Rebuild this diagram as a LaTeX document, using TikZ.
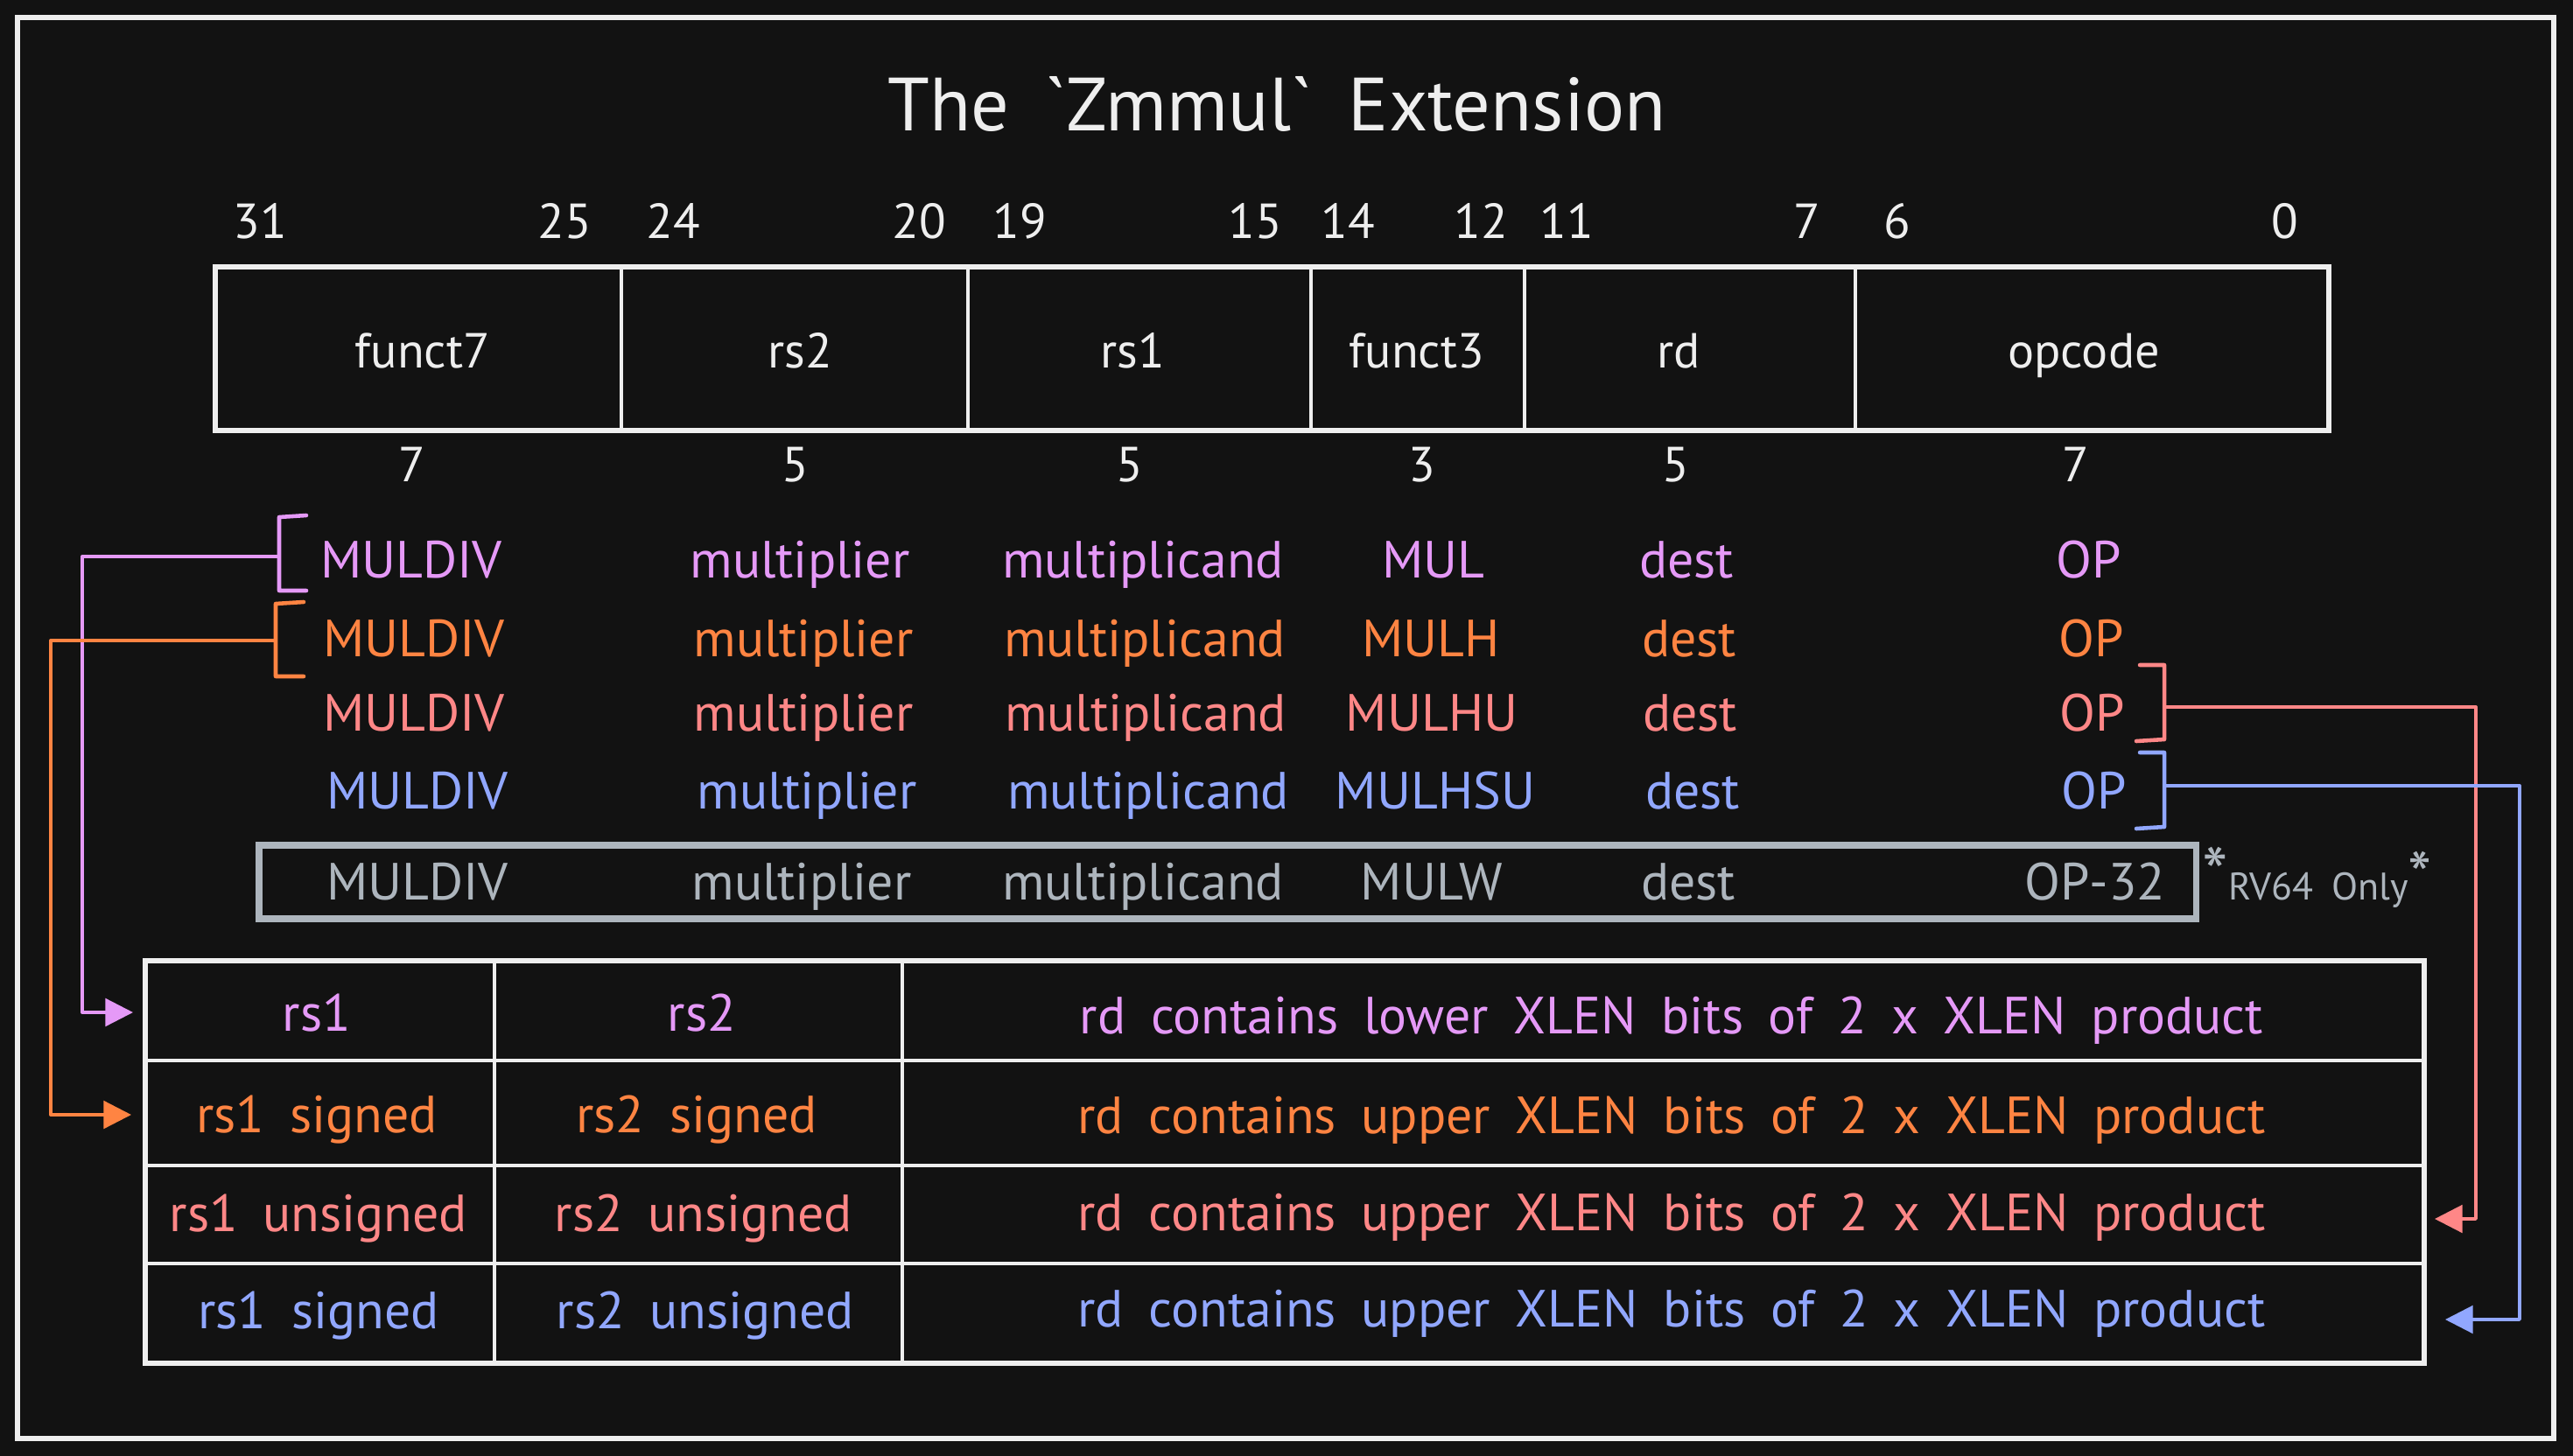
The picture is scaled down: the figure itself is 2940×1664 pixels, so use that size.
\documentclass[tikz,border=0pt]{standalone}
\usepackage{fontspec}
\setmainfont{PT Sans}[WordSpace=1.8]
\usetikzlibrary{arrows.meta}
\definecolor{bg}{HTML}{121212}
\definecolor{fg}{HTML}{EEEEEE}
\definecolor{vio}{HTML}{E599F7}
\definecolor{ora}{HTML}{FF8442}
\definecolor{sal}{HTML}{FF8787}
\definecolor{blu}{HTML}{91A7FF}
\definecolor{gry}{HTML}{ADB5BD}
\begin{document}
\begin{tikzpicture}[x=0.01cm,y=-0.01cm,
  txt/.style={inner sep=0pt, anchor=base},
  titletxt/.style={txt, text=fg, font=\fontsize{24.5}{24.5}\selectfont},
  bitnum/.style={txt, text=fg, font=\fontsize{16}{16}\selectfont},
  fieldtxt/.style={txt, text=fg, font=\fontsize{16}{16}\selectfont},
  rowtxt/.style={txt, font=\fontsize{17}{17}\selectfont},
  tabtxt/.style={txt, font=\fontsize{17}{17}\selectfont},
  frame/.style={draw=fg, line width=1.7pt},
  thin/.style={draw=fg, line width=0.9pt},
  brack/.style={line width=1.3pt, line cap=round, line join=round},
  conn/.style={line width=0.95pt, line join=round, -{Triangle[length=9pt,width=9pt]}}
]
\useasboundingbox (0,0) rectangle (2940,1664);
\fill[bg] (0,0) rectangle (2940,1664);
\draw[frame] (20,20) rectangle (2918,1644);

% title
\node[titletxt] (title) at (1459,150) {The \textasciigrave Zmmul\textasciigrave{} Extension};

% bit numbers
\node[bitnum] (b31) at (297,273) {31};
\node[bitnum] (b25) at (645,273) {25};
\node[bitnum] (b24) at (769,273) {24};
\node[bitnum] (b20) at (1050,273) {20};
\node[bitnum] (b19) at (1165,273) {19};
\node[bitnum] (b15) at (1434,273) {15};
\node[bitnum] (b14) at (1540,273) {14};
\node[bitnum] (b12) at (1692,273) {12};
\node[bitnum] (b11) at (1790,273) {11};
\node[bitnum] (b7) at (2065,273) {7};
\node[bitnum] (b6) at (2168,273) {6};
\node[bitnum] (b0) at (2611,273) {0};

% instruction format box
\draw[thin] (710,305) -- (710,492);
\draw[thin] (1106,305) -- (1106,492);
\draw[thin] (1498,305) -- (1498,492);
\draw[thin] (1742,305) -- (1742,492);
\draw[thin] (2120,305) -- (2120,492);
\draw[frame] (246,305) rectangle (2661,492);
\node[fieldtxt] (ffunct7) at (483,420) {funct7};
\node[fieldtxt] (frs2) at (914,420) {rs2};
\node[fieldtxt] (frs1) at (1294,420) {rs1};
\node[fieldtxt] (ffunct3) at (1619,420) {funct3};
\node[fieldtxt] (frd) at (1918,420) {rd};
\node[fieldtxt] (fopcode) at (2381,420) {opcode};

% widths
\node[bitnum] (w1) at (471,550) {7};
\node[bitnum] (w2) at (909,550) {5};
\node[bitnum] (w3) at (1291,550) {5};
\node[bitnum] (w4) at (1625,550) {3};
\node[bitnum] (w5) at (1915,550) {5};
\node[bitnum] (w6) at (2372,550) {7};

% instruction rows
\node[rowtxt, text=vio] (r1a) at (470,660) {MULDIV};
\node[rowtxt, text=vio] (r1b) at (914,660) {multiplier};
\node[rowtxt, text=vio] (r1c) at (1306,660) {multiplicand};
\node[rowtxt, text=vio] (r1d) at (1638,660) {MUL};
\node[rowtxt, text=vio] (r1e) at (1927,660) {dest};
\node[rowtxt, text=vio] (r1f) at (2387,660) {OP};

\node[rowtxt, text=ora] (r2a) at (473,750) {MULDIV};
\node[rowtxt, text=ora] (r2b) at (918,750) {multiplier};
\node[rowtxt, text=ora] (r2c) at (1308,750) {multiplicand};
\node[rowtxt, text=ora] (r2d) at (1635,750) {MULH};
\node[rowtxt, text=ora] (r2e) at (1930,750) {dest};
\node[rowtxt, text=ora] (r2f) at (2390,750) {OP};

\node[rowtxt, text=sal] (r3a) at (473,835) {MULDIV};
\node[rowtxt, text=sal] (r3b) at (918,835) {multiplier};
\node[rowtxt, text=sal] (r3c) at (1309,835) {multiplicand};
\node[rowtxt, text=sal] (r3d) at (1636,835) {MULHU};
\node[rowtxt, text=sal] (r3e) at (1931,835) {dest};
\node[rowtxt, text=sal] (r3f) at (2391,835) {OP};

\node[rowtxt, text=blu] (r4a) at (477,924) {MULDIV};
\node[rowtxt, text=blu] (r4b) at (922,924) {multiplier};
\node[rowtxt, text=blu] (r4c) at (1312,924) {multiplicand};
\node[rowtxt, text=blu] (r4d) at (1640,924) {MULHSU};
\node[rowtxt, text=blu] (r4e) at (1934,924) {dest};
\node[rowtxt, text=blu] (r4f) at (2393,924) {OP};

\draw[gry, line width=2pt] (296,966) rectangle (2509,1050);
\node[rowtxt, text=gry] (r5a) at (477,1028) {MULDIV};
\node[rowtxt, text=gry] (r5b) at (916,1028) {multiplier};
\node[rowtxt, text=gry] (r5c) at (1306,1028) {multiplicand};
\node[rowtxt, text=gry] (r5d) at (1636,1028) {MULW};
\node[rowtxt, text=gry] (r5e) at (1929,1028) {dest};
\node[rowtxt, text=gry, anchor=base east] (r5f) at (2475,1028) {OP-32};
\node[txt, anchor=base west, text=gry, font=\fontsize{12.5}{12.5}\selectfont] (rv) at (2516,1028)
  {{\fontsize{24}{24}\selectfont *}RV64 Only{\fontsize{22}{22}\selectfont *}};

% table
\draw[thin] (565,1098) -- (565,1558);
\draw[thin] (1031,1098) -- (1031,1558);
\draw[thin] (166,1212) -- (2770,1212);
\draw[thin] (166,1332) -- (2770,1332);
\draw[thin] (166,1444) -- (2770,1444);
\draw[frame] (166,1098) rectangle (2770,1558);

\node[tabtxt, text=vio] (t1a) at (362,1178) {rs1};
\node[tabtxt, text=vio] (t1b) at (802,1178) {rs2};
\node[tabtxt, text=vio] (t1c) at (1910,1181) {rd contains lower XLEN bits of 2 x XLEN product};
\node[tabtxt, text=ora] (t2a) at (362,1294) {rs1 signed};
\node[tabtxt, text=ora] (t2b) at (796,1294) {rs2 signed};
\node[tabtxt, text=ora] (t2c) at (1910,1295) {rd contains upper XLEN bits of 2 x XLEN product};
\node[tabtxt, text=sal] (t3a) at (364,1407) {rs1 unsigned};
\node[tabtxt, text=sal] (t3b) at (804,1407) {rs2 unsigned};
\node[tabtxt, text=sal] (t3c) at (1910,1406) {rd contains upper XLEN bits of 2 x XLEN product};
\node[tabtxt, text=blu] (t4a) at (364,1518) {rs1 signed};
\node[tabtxt, text=blu] (t4b) at (806,1518) {rs2 unsigned};
\node[tabtxt, text=blu] (t4c) at (1910,1516) {rd contains upper XLEN bits of 2 x XLEN product};

% brackets
\draw[brack, vio] (350,589) -- (319,591) -- (319,675) -- (350,675);
\draw[brack, ora] (347,688) -- (315,690) -- (315,773) -- (347,773);
\draw[brack, sal] (2445,760) -- (2473,760) -- (2473,845) -- (2441,847);
\draw[brack, blu] (2445,860) -- (2473,860) -- (2473,945) -- (2441,947);

\coordinate (vbm) at (319,636);
\coordinate (obm) at (315,732);
\coordinate (sbm) at (2473,808);
\coordinate (bbm) at (2473,898);
\coordinate (vtip) at (152,1157);
\coordinate (otip) at (150,1274);
\coordinate (stip) at (2782,1393);
\coordinate (btip) at (2794,1508);

% connectors
\draw[conn, vio] (vbm) -- ++(-225,0) |- (vtip);
\draw[conn, ora] (obm) -- ++(-257,0) |- (otip);
\draw[conn, sal] (sbm) -- ++(356,0) |- (stip);
\draw[conn, blu] (bbm) -- ++(406,0) |- (btip);
\end{tikzpicture}
\end{document}
